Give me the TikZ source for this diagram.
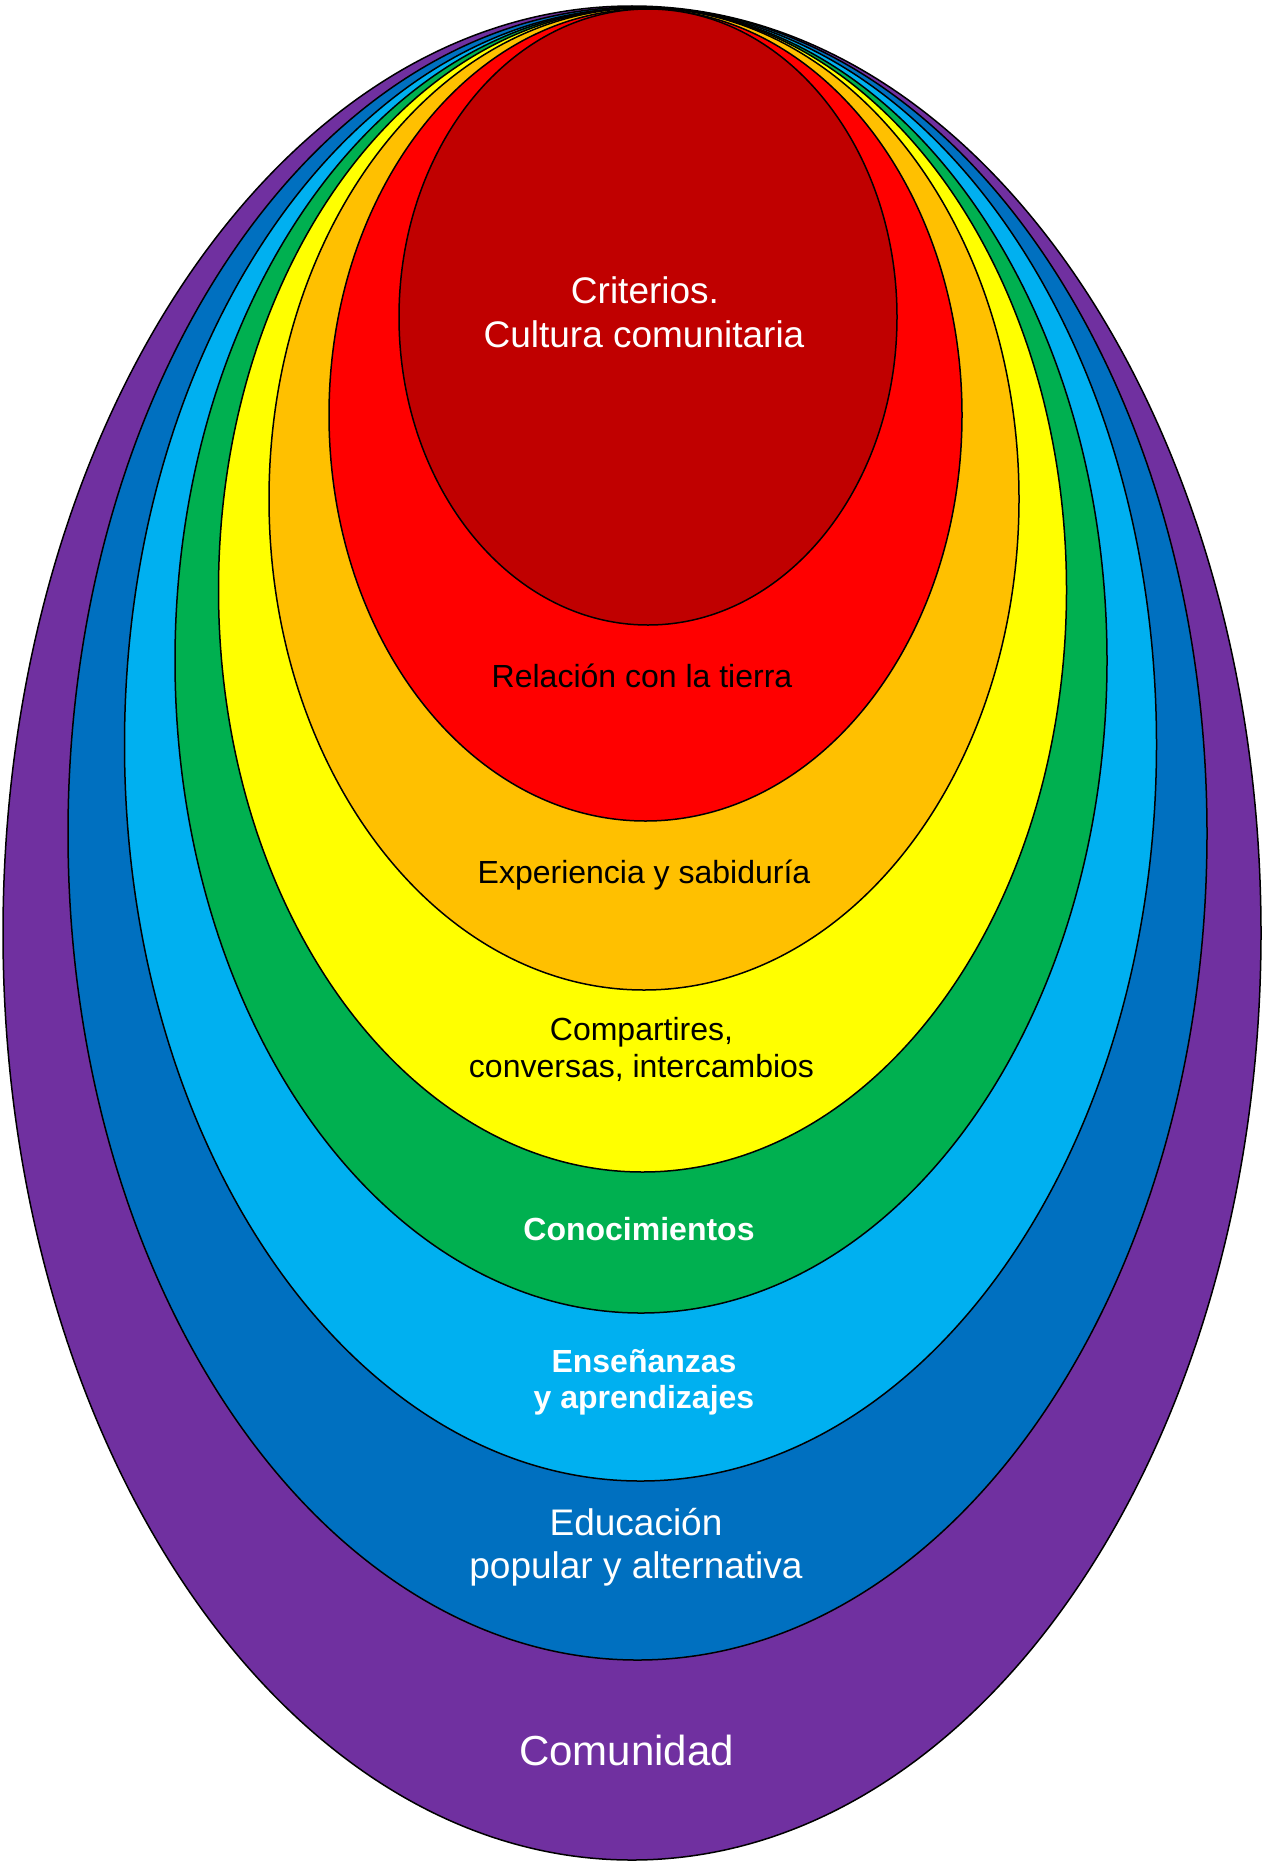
\documentclass[tikz,border=0pt]{standalone}
\usepackage{fontspec}
\setmainfont{Liberation Sans}
\definecolor{cpurple}{HTML}{7030A0}
\definecolor{cdblue}{HTML}{0070C0}
\definecolor{clblue}{HTML}{00B0F0}
\definecolor{cgreen}{HTML}{00B050}
\definecolor{cyellow}{HTML}{FFFF00}
\definecolor{corange}{HTML}{FFC000}
\definecolor{cred}{HTML}{FF0000}
\definecolor{cdred}{HTML}{C00000}
\begin{document}
\begin{tikzpicture}[x=1pt,y=-1pt,
  ring/.style={draw=black,line width=1.5pt},
  lbl/.style={anchor=base,inner sep=0pt},
  fsA/.style={font=\fontsize{37}{44}\selectfont},
  fsB/.style={font=\fontsize{32}{37}\selectfont},
  fsBb/.style={font=\fontsize{32}{37}\selectfont\bfseries},
  fsC/.style={font=\fontsize{42}{50}\selectfont}]
\useasboundingbox (0,0) rectangle (1263,1865);
\fill[white] (0,0) rectangle (1263,1865);
\path[ring,fill=cpurple] (632,933) ellipse [x radius=629pt, y radius=927pt];
\path[ring,fill=cdblue] (637.5,833.5) ellipse [x radius=569.5pt, y radius=826.5pt];
\path[ring,fill=clblue] (640.5,744.5) ellipse [x radius=516pt, y radius=736.5pt];
\path[ring,fill=cgreen] (641,660.5) ellipse [x radius=466pt, y radius=652.5pt];
\path[ring,fill=cyellow] (642.5,590) ellipse [x radius=424pt, y radius=582pt];
\path[ring,fill=corange] (644,499) ellipse [x radius=375pt, y radius=491pt];
\path[ring,fill=cred] (645.5,415) ellipse [x radius=316.5pt, y radius=406pt];
\path[ring,fill=cdred] (648,317) ellipse [x radius=249pt, y radius=308pt];
\node[lbl,fsA,text=white] (crit1) at (645,303) {Criterios.};
\node[lbl,fsA,text=white] (crit2) at (644,347) {Cultura comunitaria};
\node[lbl,fsB,text=black] (rel) at (642,687) {Relación con la tierra};
\node[lbl,fsB,text=black] (exp) at (644,883) {Experiencia y sabiduría};
\node[lbl,fsB,text=black] (comp1) at (641.5,1040) {Compartires,};
\node[lbl,fsB,text=black] (comp2) at (641.5,1077) {conversas, intercambios};
\node[lbl,fsBb,text=white] (cono) at (639,1240) {Conocimientos};
\node[lbl,fsBb,text=white] (ens1) at (644,1372) {Enseñanzas};
\node[lbl,fsBb,text=white] (ens2) at (644,1408) {y aprendizajes};
\node[lbl,fsA,text=white] (edu1) at (636,1535) {Educación};
\node[lbl,fsA,text=white] (edu2) at (636,1578) {popular y alternativa};
\node[lbl,fsC,text=white] (com) at (626.5,1765) {Comunidad};
\end{tikzpicture}
\end{document}
